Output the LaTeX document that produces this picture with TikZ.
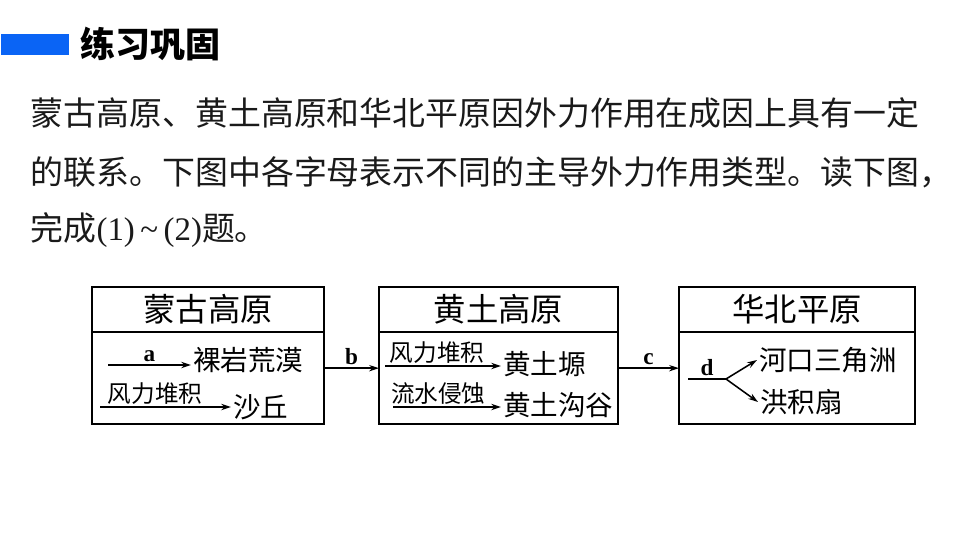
\documentclass[tikz,border=0pt]{standalone}
\usepackage{fontspec}
\newfontfamily\cjk{Noto Sans CJK SC}
\newfontfamily\tms{Liberation Serif}
\usetikzlibrary{arrows.meta,positioning,calc}
\definecolor{barblue}{HTML}{0A64F5}
\definecolor{txtgray}{HTML}{1A1A1A}
\tikzset{every picture/.style={line width=1.1pt}}

\begin{document}
\begin{tikzpicture}[x=0.025cm, y=-0.025cm, font=\cjk,
    boxtitle/.style={draw, line width=1.4pt, inner sep=0pt, outer sep=0pt, minimum height=1.125cm, font=\cjk\fontsize{23}{25}\selectfont},
    boxbody/.style={draw, line width=1.4pt, inner sep=0pt, outer sep=0pt, minimum height=2.3cm},
    item/.style={anchor=west, inner sep=1pt, font=\cjk\fontsize{19.6}{21}\selectfont},
    tag/.style={above, inner sep=1pt, font=\cjk\fontsize{16.8}{18}\selectfont},
    letter/.style={above, inner sep=2pt, font=\tms\bfseries\fontsize{16.5}{18}\selectfont},
    arr/.style={-{Stealth[length=7pt, width=4.5pt]}},
    para/.style={anchor=west, inner sep=0pt, text=txtgray, font=\cjk\fontsize{23.4}{25}\selectfont}]
    \useasboundingbox[fill=white] (0,0) rectangle (960,540);

    \node[fill=barblue, inner sep=0pt, minimum width=1.7cm, minimum height=0.525cm, anchor=north west] (bar) at (0,33) {};
    \node[anchor=west, inner sep=0pt, font=\cjk\bfseries\fontsize{24.9}{26}\selectfont] (head) at (80,44) {练习巩固};

    \node[para] (line1) at (30,113) {蒙古高原、黄土高原和华北平原因外力作用在成因上具有一定};
    \node[para] (line2) at (30,172) {的联系。下图中各字母表示不同的主导外力作用类型。读下图，};
    \node[para] (line3) at (30,230) {完成{\tms(1)\,\char"007E\,(2)}题。};

    \node[boxtitle, minimum width=5.8cm] (mgT) at (208,309.5) {蒙古高原};
    \node[boxbody, minimum width=5.8cm, below=0pt of mgT] (mgB) {};
    \node[boxtitle, minimum width=5.975cm] (htT) at (498.5,309.5) {黄土高原};
    \node[boxbody, minimum width=5.975cm, below=0pt of htT] (htB) {};
    \node[boxtitle, minimum width=5.9cm] (hbT) at (797,309.5) {华北平原};
    \node[boxbody, minimum width=5.9cm, below=0pt of hbT] (hbB) {};

    \node[item] (luoyan) at (191,360) {裸岩荒漠};
    \node[item] (shaqiu) at (231,407) {沙丘};
    \coordinate (a0) at (108,365);
    \coordinate (a1) at (100,407);
    \draw[arr] (a0) -- node[letter] {a} (a0 -| luoyan.west);
    \draw[arr] (a1) -- node[tag, pos=0.42] {风力堆积} (shaqiu.west);

    \node[item] (yuan) at (501,364) {黄土塬};
    \node[item] (gougu) at (501,405) {黄土沟谷};
    \coordinate (h0) at (385,366);
    \coordinate (h1) at (393,407);
    \draw[arr] (h0) -- node[tag, pos=0.45] {风力堆积} (h0 -| yuan.west);
    \draw[arr] (h1) -- node[tag, pos=0.42] {流水侵蚀} (h1 -| gougu.west);

    \node[item] (hekou) at (757,360) {河口三角洲};
    \node[item] (hongji) at (758,402) {洪积扇};
    \coordinate (d0) at (688,379);
    \coordinate (d1) at (726,379);
    \draw (d0) -- node[letter] {d} (d1);
    \draw[arr] (d1) -- (hekou.west);
    \draw[arr] (d1) -- (hongji.west);

    \draw[arr] ([yshift=7pt]mgB.east) -- node[letter] {b} ([yshift=7pt]htB.west);
    \draw[arr] ([yshift=7pt]htB.east) -- node[letter] {c} ([yshift=7pt]hbB.west);
\end{tikzpicture}
\end{document}
